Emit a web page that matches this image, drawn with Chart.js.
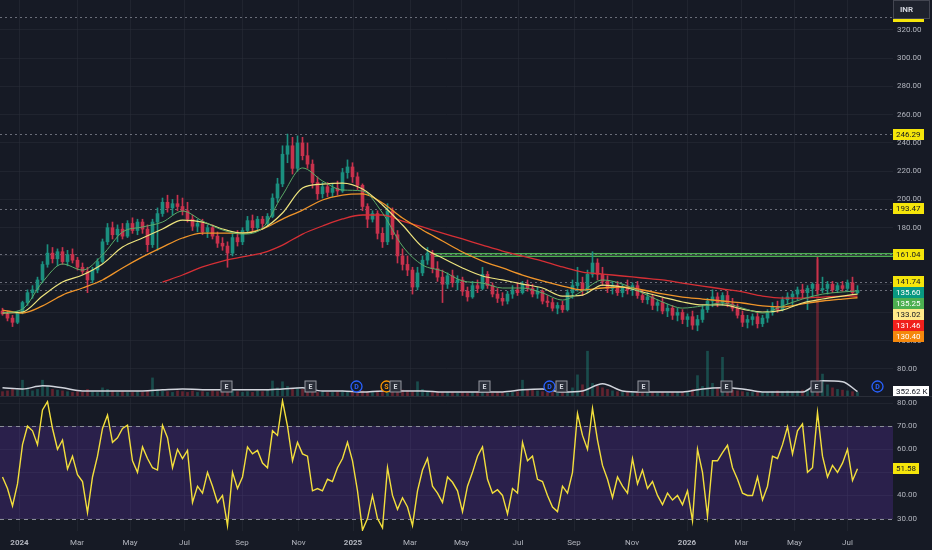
<!DOCTYPE html>
<html>
<head>
<meta charset="utf-8">
<script src="https://cdn.jsdelivr.net/npm/chart.js"></script>
<style>
    html, body { margin: 0; padding: 0; background: #161a25; }
    #wrap { position: relative; width: 932px; height: 550px; background: #161a25; overflow: hidden; }
    #main { position: absolute; left: 0; top: 0; }
    #rsi { position: absolute; left: 0; top: 397px; }
    #sep { position: absolute; left: 0; top: 396px; width: 932px; height: 1px; background: #2a2e39; }
</style>
</head>
<body>
<div id="wrap">
    <canvas id="main" width="932" height="397"></canvas>
    <div id="sep"></div>
    <canvas id="rsi" width="932" height="153"></canvas>
</div>
<script>
// candles: [open, high, low, close], one per bar index
const ohlc = [
    [121,123,118,119],[119,121,114,116],[116,118,110,113],[113,121,112,120],[120,128,119,127],
    [127,136,125,134],[134,139,130,136],[136,145,134,143],[143,156,141,154],[154,168,152,162],
    [162,166,155,158],[158,165,153,163],[163,166,154,156],[156,164,153,161],[161,165,155,157],
    [157,159,150,152],[152,155,147,149],[149,152,134,143],[143,152,141,150],[150,158,148,156],
    [156,172,155,170],[170,183,168,180],[180,184,172,175],[175,182,170,179],[179,183,172,174],
    [174,185,173,183],[183,187,176,178],[178,186,175,184],[184,186,176,179],[179,182,163,168],
    [168,186,166,184],[184,194,164,190],[190,201,188,198],[198,203,191,194],[194,200,189,197],
    [197,203,192,195],[195,201,189,192],[192,198,184,186],[186,189,178,181],[181,186,177,183],
    [183,186,175,177],[177,182,173,180],[180,182,172,174],[174,177,166,169],[169,173,164,167],
    [167,170,152,162],[162,176,160,173],[173,178,167,170],[170,180,168,178],[178,188,176,185],
    [185,189,177,180],[180,188,178,186],[186,188,179,183],[183,190,181,188],[188,204,187,201],
    [201,215,198,211],[211,238,209,232],[232,246.29,226,238],[238,244,218,222],[222,245,220,240],
    [240,244,228,231],[231,240,222,225],[225,228,208,212],[212,216,200,204],[204,212,201,209],
    [209,212,202,205],[205,211,202,208],[208,213,203,206],[206,222,205,219],[219,228,215,223],
    [223,226,212,216],[216,219,207,210],[210,211,192,195],[195,197,180,186],[186,192,184,190],
    [190,192,172,176],[176,180,166,170],[170,197,168,192],[192,194,172,175],[175,178,155,160],
    [160,165,150,154],[154,160,146,150],[150,152,133,138],[138,152,136,148],[148,160,146,157],
    [157,166,154,162],[162,164,148,151],[151,156,142,145],[145,150,127,140],[140,148,137,146],
    [146,150,138,141],[141,146,136,143],[143,145,132,135],[135,138,128,131],[131,142,130,139],
    [139,143,134,137],[137,152,136,147],[147,149,137,139],[139,141,131,133],[133,137,127,130],
    [130,134,125,128],[128,135,126,133],[133,139,130,136],[136,141,132,134],[134,142,133,140],
    [140,143,135,137],[137,140,131,133],[133,138,130,135],[135,136,126,128],[128,132,124,127],
    [127,130,121,123],[123,127,119,125],[125,128,120,122],[122,136,121,134],[134,143,130,139],
    [139,152,135,141],[141,145,132,136],[136,150,134,147],[147,163,145,155],[155,158,143,147],
    [147,152,139,142],[142,146,134,137],[137,142,133,139],[139,142,132,134],[134,140,131,138],
    [138,143,133,136],[136,141,132,139],[139,142,130,132],[132,136,127,129],[129,134,126,131],
    [131,133,122,125],[125,129,121,127],[127,130,119,121],[121,126,117,123],[123,125,115,118],
    [118,123,114,120],[120,122,112,115],[115,119,110,117],[117,121,108,111],[111,118,107,115],
    [115,125,113,122],[122,130,120,128],[128,136,124,131],[131,134,124,127],[127,134,125,132],
    [132,135,124,126],[126,130,121,123],[123,126,116,118],[118,121,110,113],[113,118,109,115],
    [115,119,111,117],[117,120,109,112],[112,118,110,116],[116,122,113,120],[120,127,118,124],
    [124,128,120,122],[122,131,121,129],[129,134,126,131],[131,135,125,133],[133,138,129,136],
    [136,140,130,134],[134,139,122,137],[137,141,131,140],[140,159,133,136],[136,145,134,137],
    [137,142,133,140],[140,142,134,136],[136,141,134,139],[139,142,135,137],[137,143,135,141],
    [141,145,133,134],[134,139,133,135.6]
];

// volume in thousands
const volume = [
    350,400,500,450,1100,600,400,500,1100,700,
    500,450,400,350,300,350,300,500,350,300,
    600,500,400,300,350,300,300,350,300,400,
    1250,500,400,350,300,400,350,300,400,300,
    350,300,400,350,400,500,400,350,300,350,
    300,400,350,450,1050,600,1000,700,500,600,
    500,400,350,300,350,300,300,350,400,350,
    300,350,400,350,300,400,500,450,350,400,
    450,400,350,1000,500,350,300,350,300,300,
    300,250,300,250,300,300,350,300,250,300,
    300,250,300,350,1100,500,450,400,350,300,
    300,250,300,350,600,1450,800,3000,900,700,
    600,500,400,350,300,350,300,300,350,300,
    300,250,300,250,300,300,350,300,500,1400,
    700,3000,900,600,2600,500,450,400,350,300,
    300,350,300,300,350,400,350,400,350,400,
    450,500,900,9000,1500,800,600,500,450,400,
    350,300
];

// moving averages, read every 4th bar
const maIdx = [0,4,8,12,16,20,24,28,32,36,40,44,48,52,56,60,64,68,72,76,80,84,88,92,96,100,104,108,112,116,120,124,128,132,136,140,144,148,152,156,160,164,168,171];
const maGreen = [119.6,122.4,141.5,154.3,150.0,160.7,176.9,180.5,184.0,191.8,184.7,178.4,175.5,179.8,203.1,222.3,213.1,206.7,206.0,190.4,167.0,153.6,149.3,142.3,140.8,137.3,137.3,133.8,128.8,135.2,143.0,140.1,133.8,127.4,123.1,124.6,126.7,123.1,119.6,124.6,129.5,133.0,134.5,135.25];
const maYellow = [119.6,120.3,131.6,141.5,146.5,154.3,166.3,172.7,179.1,185.4,184.0,179.1,176.2,179.1,190.4,208.1,210.9,211.6,207.4,196.1,181.9,166.3,158.5,151.5,145.8,143.0,140.1,137.3,131.6,132.3,139.4,138.0,134.5,130.9,127.4,125.3,125.3,122.4,120.3,121.7,126.7,129.5,131.6,133.02];
const maOrange = [121.7,119.6,124.6,132.3,137.3,143.0,151.5,159.3,166.3,172.7,176.2,176.2,176.2,179.1,186.1,192.5,199.6,203.1,203.9,197.5,186.9,178.4,170.6,162.8,156.4,151.5,146.5,142.3,138.7,135.9,137.3,138.0,135.9,133.1,130.9,129.5,128.1,126.7,124.6,123.9,126.0,128.1,129.5,130.40];
const maRed = [null,null,null,null,null,null,null,null,141.5,146.5,152.2,156.4,159.3,162.1,167.7,175.5,181.2,186.2,189.0,189.0,184.7,180.5,176.2,172.0,167.7,163.5,159.9,156.4,152.2,148.6,147.2,145.8,144.4,143.0,140.8,138.7,136.6,134.5,131.6,130.2,130.2,130.9,131.6,131.46];
const volMA = [600,530,730,600,400,400,400,400,470,530,470,470,470,470,530,600,400,400,330,400,400,400,330,330,330,330,470,530,330,400,870,400,330,330,330,530,600,530,330,330,330,1070,1000,352.62];

// RSI, one per bar index
const rsi = [
    48,43,35.5,45,62,70,68,62,77,80.6,
    69,60,64,51.5,57,49,46,32.6,48,57,
    69,74.8,63,65,69,70.4,55,50,61,56,
    52,51,70.4,65,52,60,56,59.5,37,44,
    41,50,44,37,40,27,50,43,48,61,
    58,59.5,54,52,68,66,81,70,55,63,
    58,57,42,43,42,47,46,52,56,63,
    55,42,25,30,40,30,26,52,40,34,
    39,35,27,42,51,56,44,41,37,48,
    45.7,42,33,44,50,57,61,47,41,42.5,
    40,32,43,41,63,55,57,47,46,40,
    35,33,44,41,50,75.5,66,60,77.7,64,
    53,47,39,48,44,41,55.9,45,51,43,
    46,40,36,41,38,40,36,42,29,60,
    50,31,55,55,58.5,61.7,52,47,41,40,
    40,48,38,44,57,56,62,69.7,58,68,
    71,50,52,76,57,48,53,50,54,60,
    46.5,51.58
];

const timeTickIdx = [3.4,14.9,25.5,36.4,47.9,59.2,70.1,81.5,91.8,103.1,114.3,125.9,136.9,147.8,158.4,169];
const timeTickLabels = ['2024','Mar','May','Jul','Sep','Nov','2025','Mar','May','Jul','Sep','Nov','2026','Mar','May','Jul'];
const priceTicks = [80,100,120,140,160,180,200,220,240,260,280,300,320];
const rsiTicks = [30,40,50,60,70,80];

// horizontal levels and right-edge price tags
const levelLines = [329.2, 246.29, 193.47, 161.04, 141.74, 135.6];
const tagValues = [329.2, 246.29, 193.47, 161.04, 141.74, 135.60, 135.25, 133.02, 131.46, 130.40];
const tagKinds = ['level','level','level','level','level','last','green','yellow','red','orange'];
const zoneStartIdx = 86;
const zoneLow = 159.4;
const zoneHigh = 162.2;

// earnings / dividend / split markers
const eventIdx = [44.6, 61.5, 70.7, 76.6, 78.5, 96.3, 109.2, 111.7, 128.1, 144.6, 162.6, 174.8];
const eventType = ['E','E','D','S','E','E','D','E','E','E','E','D'];

const gridColor = 'rgba(42,46,57,0.55)';
const textColor = '#b2b5be';
const tagStyle = {
    level: ['#f5e50a', '#131722'],
    last: ['#089981', '#ffffff'],
    green: ['#4caf50', '#ffffff'],
    yellow: ['#ffe98a', '#131722'],
    red: ['#f0201c', '#ffffff'],
    orange: ['#f5880c', '#ffffff']
};

Chart.defaults.font.family = 'Roboto';
Chart.defaults.font.size = 8;
Chart.defaults.color = textColor;

function isUp(i) {
    return ohlc[i][3] >= ohlc[i][0];
}

function drawTag(ctx, x, cy, text, bg, fg, w) {
    ctx.fillStyle = bg;
    ctx.fillRect(x, Math.round(cy - 5.5), w, 11);
    ctx.fillStyle = fg;
    ctx.font = '8px Roboto';
    ctx.textAlign = 'left';
    ctx.textBaseline = 'middle';
    ctx.fillText(text, x + 3, Math.round(cy - 5.5) + 6);
}

function maPoints(arr) {
    return maIdx.map((ix, k) => ({x: ix, y: arr[k]}));
}

function maLine(label, arr, color, width, order) {
    return {
        type: 'line',
        label: label,
        data: maPoints(arr),
        borderColor: color,
        borderWidth: width,
        pointRadius: 0,
        cubicInterpolationMode: 'monotone',
        yAxisID: 'y',
        order: order
    };
}

const mainDecor = {
    id: 'mainDecor',
    beforeDatasetsDraw(chart) {
        const {ctx, chartArea: a, scales: {x, y}} = chart;
        ctx.save();
        // green resistance band
        const zx = x.getPixelForValue(zoneStartIdx);
        const zt = y.getPixelForValue(zoneHigh);
        const zb = y.getPixelForValue(zoneLow);
        ctx.fillStyle = 'rgba(76,175,80,0.3)';
        ctx.fillRect(zx, zt, a.right - zx, zb - zt);
        ctx.strokeStyle = '#4caf50';
        ctx.lineWidth = 1;
        ctx.beginPath();
        ctx.moveTo(zx, Math.round(zt) + 0.5);
        ctx.lineTo(a.right, Math.round(zt) + 0.5);
        ctx.moveTo(zx, Math.round(zb) - 0.5);
        ctx.lineTo(a.right, Math.round(zb) - 0.5);
        ctx.stroke();
        // dotted level lines
        ctx.setLineDash([2, 3]);
        ctx.strokeStyle = 'rgba(135,138,150,0.75)';
        levelLines.forEach(v => {
            const py = Math.round(y.getPixelForValue(v)) + 0.5;
            ctx.beginPath();
            ctx.moveTo(a.left, py);
            ctx.lineTo(a.right, py);
            ctx.stroke();
        });
        ctx.restore();
    },
    afterDraw(chart) {
        const {ctx, chartArea: a, scales: {x, y, yv}} = chart;
        ctx.save();
        // event markers on the volume line
        const my = a.bottom - 10.5;
        eventIdx.forEach((ix, k) => {
            const px = Math.round(x.getPixelForValue(ix)) + 0.5;
            const t = eventType[k];
            if (t === 'E') {
                ctx.fillStyle = '#2a2e39';
                ctx.fillRect(px - 5.5, my - 5.5, 11, 11);
                ctx.strokeStyle = '#9598a1';
                ctx.lineWidth = 1;
                ctx.strokeRect(px - 5.5, my - 5.5, 11, 11);
                ctx.fillStyle = '#d1d4dc';
            } else {
                const c = t === 'D' ? '#2962ff' : '#ff9800';
                ctx.beginPath();
                ctx.arc(px, my, 5.5, 0, Math.PI * 2);
                ctx.fillStyle = '#161a25';
                ctx.fill();
                ctx.strokeStyle = c;
                ctx.lineWidth = 1.3;
                ctx.stroke();
                ctx.fillStyle = c;
            }
            ctx.font = 'bold 7px Roboto';
            ctx.textAlign = 'center';
            ctx.textBaseline = 'middle';
            ctx.fillText(t, px, my + 0.5);
        });
        // price tags, pushed down when they overlap
        const tx = y.left;
        let lastBottom = -100;
        tagValues.forEach((v, k) => {
            let cy = y.getPixelForValue(v);
            if (cy - 5.5 < lastBottom) cy = lastBottom + 5.5;
            lastBottom = cy + 5.5;
            const st = tagStyle[tagKinds[k]];
            drawTag(ctx, tx, cy, v.toFixed(2), st[0], st[1], 31);
        });
        // volume average tag
        const vy = yv.getPixelForValue(volMA[volMA.length - 1]);
        drawTag(ctx, tx, vy, volMA[volMA.length - 1].toFixed(2) + ' K', '#ffffff', '#131722', 36);
        // currency box
        ctx.fillStyle = '#1e222d';
        ctx.fillRect(tx, 0, 37, 19);
        ctx.strokeStyle = '#434651';
        ctx.lineWidth = 1;
        ctx.strokeRect(tx + 0.5, 0.5, 36, 18);
        ctx.fillStyle = '#d1d4dc';
        ctx.font = 'bold 8px Roboto';
        ctx.textAlign = 'left';
        ctx.textBaseline = 'middle';
        ctx.fillText('INR', tx + 7, 10);
        ctx.restore();
    }
};

const rsiDecor = {
    id: 'rsiDecor',
    beforeDatasetsDraw(chart) {
        const {ctx, chartArea: a, scales: {y}} = chart;
        const top = Math.round(y.getPixelForValue(70));
        const bot = Math.round(y.getPixelForValue(30));
        ctx.save();
        ctx.fillStyle = 'rgba(126,60,230,0.2)';
        ctx.fillRect(a.left, top, a.right - a.left, bot - top);
        ctx.setLineDash([4, 4]);
        ctx.strokeStyle = '#8a8d98';
        ctx.lineWidth = 1;
        [top, bot].forEach(py => {
            ctx.beginPath();
            ctx.moveTo(a.left, py + 0.5);
            ctx.lineTo(a.right, py + 0.5);
            ctx.stroke();
        });
        ctx.restore();
    },
    afterDraw(chart) {
        const {ctx, scales: {y}} = chart;
        const last = rsi[rsi.length - 1];
        ctx.save();
        drawTag(ctx, y.left, y.getPixelForValue(last), last.toFixed(2), '#f5e50a', '#131722', 26);
        ctx.restore();
    }
};

function xScale(showLabels) {
    return {
        type: 'linear',
        min: -0.5,
        max: 178.1,
        offset: false,
        grid: {color: gridColor, offset: false, drawTicks: false},
        border: {display: false},
        ticks: {
            display: showLabels,
            padding: 7,
            maxRotation: 0,
            autoSkip: false,
            color: textColor,
            font: c => ({family: 'Roboto', size: 8, weight: /^\d{4}$/.test(timeTickLabels[c.index]) ? 'bold' : 'normal'}),
            callback: (v, i) => timeTickLabels[i]
        },
        afterBuildTicks: s => { s.ticks = timeTickIdx.map(v => ({value: v})); },
        afterFit: s => {
            s.height = showLabels ? 19 : 0;
            s.paddingLeft = 0;
            s.paddingRight = 0;
        }
    };
}

function yScale(min, max, tickValues) {
    return {
        type: 'linear',
        position: 'right',
        min: min,
        max: max,
        grid: {color: gridColor, drawTicks: false},
        border: {display: false},
        ticks: {padding: 4, color: textColor, callback: v => v.toFixed(2)},
        afterBuildTicks: s => { s.ticks = tickValues.map(v => ({value: v})); },
        afterFit: s => {
            s.width = 39;
            s.paddingTop = 0;
            s.paddingBottom = 0;
        }
    };
}

const mainChart = new Chart(document.getElementById('main'), {
    type: 'bar',
    data: {
        datasets: [
            {
                label: 'Volume',
                data: volume.map((v, i) => ({x: i, y: v})),
                backgroundColor: c => isUp(c.dataIndex) ? 'rgba(34,171,148,0.35)' : 'rgba(242,54,69,0.35)',
                barThickness: 2,
                grouped: false,
                yAxisID: 'yv',
                order: 9
            },
            {
                type: 'line',
                label: 'Volume MA',
                data: maPoints(volMA),
                borderColor: '#d1d4dc',
                borderWidth: 1.5,
                pointRadius: 0,
                cubicInterpolationMode: 'monotone',
                yAxisID: 'yv',
                order: 8
            },
            {
                label: 'Wicks',
                data: ohlc.map((c, i) => ({x: i, y: [c[2], c[1]]})),
                backgroundColor: c => isUp(c.dataIndex) ? '#1b8f7f' : '#c8324d',
                barThickness: 1,
                grouped: false,
                yAxisID: 'y',
                order: 7
            },
            {
                label: 'Bodies',
                data: ohlc.map((c, i) => ({x: i, y: [c[0], c[3]]})),
                backgroundColor: c => isUp(c.dataIndex) ? '#1b8f7f' : '#c8324d',
                barThickness: 3,
                grouped: false,
                yAxisID: 'y',
                order: 6
            },
            maLine('MA 200', maRed, '#d62f35', 1.3, 4),
            maLine('MA 100', maOrange, '#f0952a', 1.3, 3),
            maLine('MA 50', maYellow, '#eee47e', 1.2, 2),
            maLine('MA 20', maGreen, '#5cab68', 1, 1)
        ]
    },
    options: {
        responsive: false,
        animation: false,
        layout: {padding: 0},
        plugins: {legend: {display: false}, tooltip: {enabled: false}},
        scales: {
            x: xScale(false),
            y: yScale(60.14, 341.2, priceTicks),
            yv: {display: false, min: 0, max: 26000}
        }
    },
    plugins: [mainDecor]
});

const rsiChart = new Chart(document.getElementById('rsi'), {
    type: 'line',
    data: {
        datasets: [{
            label: 'RSI',
            data: rsi.map((v, i) => ({x: i, y: v})),
            borderColor: '#f3df3c',
            borderWidth: 1.4,
            pointRadius: 0,
            tension: 0
        }]
    },
    options: {
        responsive: false,
        animation: false,
        layout: {padding: {top: 1}},
        plugins: {legend: {display: false}, tooltip: {enabled: false}},
        scales: {
            x: xScale(true),
            y: yScale(24.6, 82.2, rsiTicks)
        }
    },
    plugins: [rsiDecor]
});
</script>
</body>
</html>
